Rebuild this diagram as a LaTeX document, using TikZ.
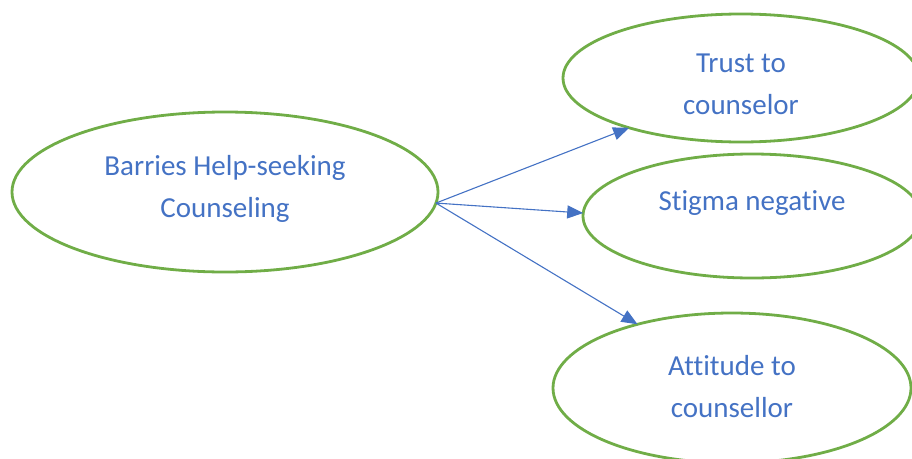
\documentclass[tikz,border=0pt]{standalone}
\usepackage{fontspec}
\setmainfont{Carlito}[RawFeature={-liga;-clig;-dlig}]
\usetikzlibrary{shapes.geometric,arrows.meta}
\definecolor{ovalgreen}{HTML}{70AD47}
\definecolor{txtblue}{HTML}{4472C4}
\begin{document}
\begin{tikzpicture}[x=1pt,y=-1pt,
  oval/.style={ellipse,draw=ovalgreen,line width=2.8pt,inner sep=0pt,outer sep=0pt},
  lbl/.style={text=txtblue,align=center,font=\fontsize{29}{42}\selectfont,inner sep=0pt},
  conn/.style={draw=txtblue,line width=1.1pt,-{Triangle[length=16pt,width=13pt]}}]
\useasboundingbox (0,0) rectangle (912,458);
\clip (0,0) rectangle (912,458);
\node[oval,minimum width=426pt,minimum height=160pt] (L) at (225,192) {};
\node[oval,minimum width=356pt,minimum height=128pt] (T) at (741,78) {};
\node[oval,minimum width=338pt,minimum height=124pt] (S) at (752,216) {};
\node[oval,minimum width=358pt,minimum height=150pt] (A) at (732,388) {};
\node[lbl] (Lt) at (225,189) {Barries Help-seeking\\Counseling};
\node[lbl] (Tt) at (741,84) {Trust to\\counselor};
\node[lbl] (St) at (752,203) {Stigma negative};
\node[lbl] (At) at (732,387) {Attitude to\\counsellor};
\coordinate (src) at (L.-3.5);
\draw[conn] (src) -- (T.204);
\draw[conn] (src) -- (S.179);
\draw[conn] (src) -- (A.146.7);
\end{tikzpicture}
\end{document}
